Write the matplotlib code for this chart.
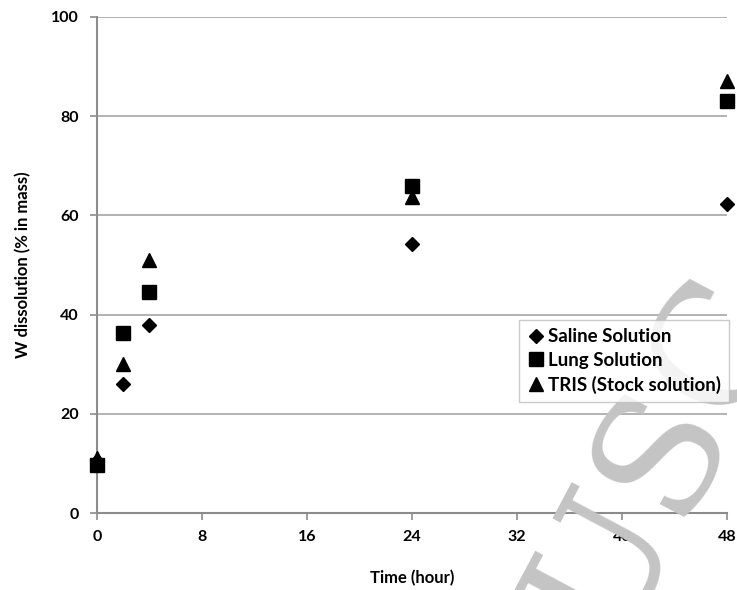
import matplotlib
matplotlib.use("Agg")
import matplotlib.pyplot as plt

plt.rcParams['font.family'] = ['Lato', 'DejaVu Sans']

# time (hour) and W dissolution (% in mass)
hours = [0, 2, 4, 24, 48]
saline = [10.5, 26.0, 37.9, 54.2, 62.3]
lung = [9.6, 36.3, 44.6, 65.9, 83.1]
tris = [11.0, 30.0, 51.0, 63.7, 87.1]

fig = plt.figure(figsize=(7.37, 5.90), dpi=100)
ax = fig.add_axes([0.1316, 0.1305, 0.8548, 0.8407])

ax.plot(hours, saline, 'D', color='black', markersize=7.5, label='Saline Solution', clip_on=False, zorder=3)
ax.plot(hours, lung, 's', color='black', markersize=9.5, label='Lung Solution', clip_on=False, zorder=3)
ax.plot(hours, tris, '^', color='black', markersize=10.5, label='TRIS (Stock solution)', clip_on=False, zorder=3)

ax.set_xlim(0, 48)
ax.set_ylim(0, 100)
ax.set_xticks(range(0, 49, 8))
ax.set_yticks(range(0, 101, 20))
ax.yaxis.grid(True, color='#a6a6a6', linewidth=1.2)
ax.set_axisbelow(True)
for s in ['top', 'right']:
    ax.spines[s].set_visible(False)
for s in ['left', 'bottom']:
    ax.spines[s].set_color('#8c8c8c')
    ax.spines[s].set_linewidth(1.5)
ax.tick_params(axis='both', colors='#8c8c8c', length=5, width=1.2)
for lab in ax.get_xticklabels() + ax.get_yticklabels():
    lab.set_color('black')
    lab.set_fontweight('bold')
    lab.set_fontsize(11.5)
ax.tick_params(axis='x', pad=7)
ax.tick_params(axis='y', pad=8)

ax.set_xlabel('Time (hour)', fontsize=12, fontweight='bold', labelpad=19)
ax.set_ylabel('W dissolution (% in mass)', fontsize=12, fontweight='bold', labelpad=14)

leg = fig.legend(loc='upper left', bbox_to_anchor=(0.704, 0.458), frameon=True, fancybox=False,
                 prop={'size': 13.5, 'weight': 'bold'}, handletextpad=0.2, handlelength=0.9,
                 borderpad=0.45, labelspacing=0.36, borderaxespad=0)
leg.get_frame().set_edgecolor('#bfbfbf')
leg.get_frame().set_linewidth(1.0)

# watermark
fig.text(0.90, 0.22, 'USC', fontsize=120, family='DejaVu Serif', color='#c4c4c4',
         rotation=62, ha='center', va='center', zorder=5)

fig.savefig('out.png', dpi=100)
